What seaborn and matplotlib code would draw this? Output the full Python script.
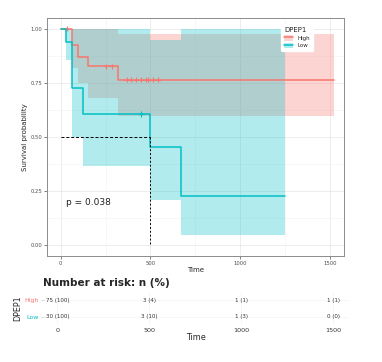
import numpy as np
import pandas as pd
import matplotlib
matplotlib.use("Agg")
import matplotlib.pyplot as plt
from matplotlib.patches import Patch
from matplotlib.lines import Line2D
import seaborn as sns

# ==============================
# Data
# ==============================
groups = ["High", "Low"]
colors = {"High": "#F8766D", "Low": "#00BFC4"}

high_time = [0, 61, 94, 155, 321, 1520]
high_surv = [1.0, 0.924, 0.872, 0.826, 0.764, 0.764]
high_upper = [1.0, 1.0, 1.0, 1.0, 0.977, 0.977]
high_lower = [1.0, 0.82, 0.75, 0.68, 0.595, 0.595]
high_cens_time = [33, 250, 285, 367, 394, 422, 450, 478, 489, 517, 544]

low_time = [0, 28, 63, 124, 498, 673, 1250]
low_surv = [1.0, 0.937, 0.727, 0.606, 0.456, 0.228, 0.228]
low_upper = [1.0, 1.0, 1.0, 1.0, 0.95, 1.0, 1.0]
low_lower = [1.0, 0.858, 0.50, 0.367, 0.21, 0.046, 0.046]
low_cens_time = [448]

median_time = 498
p_value = "p = 0.038"

risk_times = [0, 500, 1000, 1500]
risk_high = ["75 (100)", "3 (4)", "1 (1)", "1 (1)"]
risk_low = ["30 (100)", "3 (10)", "1 (3)", "0 (0)"]


def surv_at(times, surv, t):
    idx = np.searchsorted(times, t, side="right") - 1
    return surv[idx]


curves = pd.concat([
    pd.DataFrame({"time": high_time, "surv": high_surv, "group": "High"}),
    pd.DataFrame({"time": low_time, "surv": low_surv, "group": "Low"}),
])
cens = pd.concat([
    pd.DataFrame({"time": high_cens_time,
                  "surv": [surv_at(high_time, high_surv, t) for t in high_cens_time],
                  "group": "High"}),
    pd.DataFrame({"time": low_cens_time,
                  "surv": [surv_at(low_time, low_surv, t) for t in low_cens_time],
                  "group": "Low"}),
])

# ==============================
# Figure
# ==============================
sns.set_theme(style="white")
plt.rcParams['font.family'] = ['DejaVu Sans']
fig = plt.figure(figsize=(3.82, 3.62), dpi=100)
W, H = 382, 362

ax = fig.add_axes([47 / W, 1 - 256 / H, (344 - 47) / W, (256 - 18) / H])

# confidence bands
ax.fill_between(high_time, high_lower, high_upper, step="post",
                color=colors["High"], alpha=0.3, linewidth=0)
ax.fill_between(low_time, low_lower, low_upper, step="post",
                color=colors["Low"], alpha=0.3, linewidth=0)

sns.lineplot(data=curves, x="time", y="surv", hue="group", palette=colors,
             drawstyle="steps-post", linewidth=1.1, legend=False, ax=ax,
             estimator=None, sort=False)
sns.scatterplot(data=cens, x="time", y="surv", hue="group", palette=colors,
                marker="+", s=14, linewidth=0.8, legend=False, ax=ax)

# median lines
ax.plot([0, median_time], [0.5, 0.5], ls=(0, (3, 2)), color="black", lw=0.7)
ax.plot([median_time, median_time], [0.5, 0], ls=(0, (2, 2)), color="black", lw=0.7)

ax.text(32, 0.197, p_value, fontsize=6.5, va="center", ha="left", color="#222222")

ax.set_xlim(-76, 1578)
ax.set_ylim(-0.05, 1.05)
ax.set_xticks([0, 500, 1000, 1500])
ax.set_yticks([0, 0.25, 0.5, 0.75, 1.0])
ax.set_yticklabels(["0.00", "0.25", "0.50", "0.75", "1.00"])
ax.set_xticks([250, 750, 1250], minor=True)
ax.set_yticks([0.125, 0.375, 0.625, 0.875], minor=True)
ax.grid(True, which="major", color="#e6e6e6", lw=0.5)
ax.grid(True, which="minor", color="#f2f2f2", lw=0.4)
ax.set_axisbelow(True)
for s in ax.spines.values():
    s.set_color("#8c8c8c")
    s.set_linewidth(0.7)
ax.tick_params(axis="both", which="major", labelsize=3.8, colors="#4d4d4d",
               length=2, width=0.5, pad=1.5, bottom=True, left=True)
ax.tick_params(axis="both", which="minor", length=0)
ax.set_xlabel("Time", fontsize=5, labelpad=1)
ax.set_ylabel("Survival probability", fontsize=5, labelpad=2)

handles = [(Patch(facecolor=colors[g], alpha=0.3, edgecolor="none"),
            Line2D([], [], color=colors[g], lw=1.1)) for g in groups]
leg = ax.legend(handles, groups, title="DPEP1", loc="upper right",
                bbox_to_anchor=(0.905, 0.985), fontsize=4, title_fontsize=5,
                frameon=True, framealpha=1, edgecolor="white",
                handlelength=1.6, handleheight=1.2, borderpad=0.5,
                labelspacing=0.35)
leg._legend_box.align = "left"

# ==============================
# Risk table
# ==============================
rt = fig.add_axes([43.5 / W, 1 - 325 / H, (347.8 - 43.5) / W, (325 - 292) / H])
rt.set_xlim(-76, 1578)
rt.set_ylim(-0.5, 1.5)
for i, t in enumerate(risk_times):
    rt.text(t, 1, risk_high[i], ha="center", va="center", fontsize=4, color="#333333")
    rt.text(t, 0, risk_low[i], ha="center", va="center", fontsize=4, color="#333333")
rt.set_xticks(risk_times)
rt.set_yticks([1, 0])
rt.set_yticklabels(groups)
for lab, g in zip(rt.get_yticklabels(), groups):
    lab.set_color(colors[g])
rt.tick_params(axis="y", labelsize=4.5, length=2, width=0.4, color="#bbbbbb", pad=1.5, left=True)
rt.tick_params(axis="x", labelsize=4.6, length=0, pad=2.5, colors="#333333")
rt.grid(True, axis="both", color="#f3f3f3", lw=0.5)
for s in rt.spines.values():
    s.set_visible(False)
rt.set_xlabel("Time", fontsize=5.8, labelpad=0)
rt.set_ylabel("DPEP1", fontsize=5.8, labelpad=1)
fig.text(43 / W, 1 - 283 / H, "Number at risk: n (%)", fontsize=7.5,
         fontweight="bold", ha="left", va="center")

fig.savefig("out.png", dpi=100)
